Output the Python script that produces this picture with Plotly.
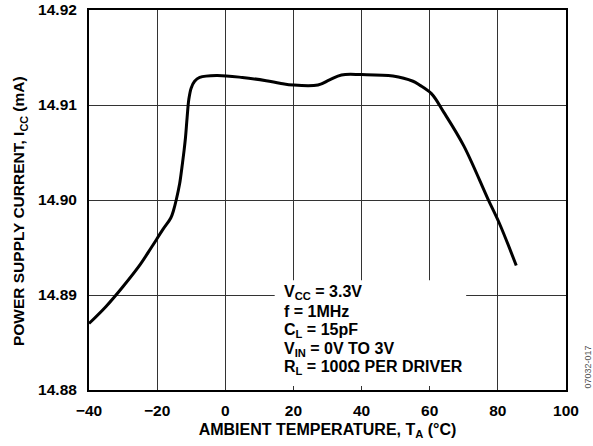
import plotly.graph_objects as go

temps = [-40, -35, -30, -25, -21.7, -18.3, -16, -15.2, -14.4, -13.4, -12.7, -12.1,
         -11.7, -11.2, -10.7, -10.0, -9.0, -7.5, -2.6, 5, 12, 16, 20, 27.2, 30.6, 34.1, 40,
         49.2, 55.1, 57, 60.5, 64.2, 70, 77.1, 80.5, 85.4]
icc = [14.8870, 14.8888, 14.8909, 14.8932, 14.8950, 14.8969, 14.8981, 14.8989, 14.9000,
       14.9017, 14.9035, 14.9052, 14.9065, 14.9087, 14.9106, 14.9118, 14.9125, 14.9129,
       14.9131, 14.9129, 14.91256, 14.9123, 14.9121, 14.91211, 14.91264, 14.91316, 14.9132,
       14.91306, 14.9125, 14.9121, 14.9112, 14.9092, 14.9057, 14.9001, 14.8975, 14.8931]

x_ticks = [-40, -20, 0, 20, 40, 60, 80, 100]
y_ticks = [14.88, 14.89, 14.90, 14.91, 14.92]
y_labels = ["14.88", "14.89", "14.90", "14.91", "14.92"]

cond_lines = ["V<sub>CC</sub> = 3.3V", "f = 1MHz", "C<sub>L</sub> = 15pF",
              "V<sub>IN</sub> = 0V TO 3V", "R<sub>L</sub> = 100Ω PER DRIVER"]
cond_y = [14.89029, 14.88830, 14.8863, 14.88431, 14.88242]

FONT = "Liberation Sans, Arial, sans-serif"

fig = go.Figure()
fig.add_trace(go.Scatter(x=temps, y=icc, mode="lines",
                         line=dict(color="black", width=3, shape="spline", smoothing=1.0),
                         showlegend=False, hoverinfo="skip"))

# white box behind the test conditions
fig.add_shape(type="rect", xref="x", yref="y", x0=14.5, x1=70.7, y0=14.88042, y1=14.89155,
              fillcolor="white", line=dict(width=0), layer="above")

for txt, yy in zip(cond_lines, cond_y):
    fig.add_annotation(x=16.6, y=yy, xref="x", yref="y", xanchor="left", yanchor="middle",
                       text=txt, showarrow=False,
                       font=dict(family=FONT, size=16, color="black", weight="bold"))

fig.add_annotation(
    x=1.0468, y=0.06, xref="paper", yref="paper", xanchor="center", yanchor="middle",
    text="07032-017", textangle=-90, showarrow=False,
    font=dict(family=FONT, size=9, color="#555555"))

fig.add_annotation(
    x=-0.1453, y=0.47, xref="paper", yref="paper", xanchor="center", yanchor="middle",
    text="POWER SUPPLY CURRENT, I<sub>CC</sub> (mA)", textangle=-90, showarrow=False,
    font=dict(family=FONT, size=15.5, color="black", weight="bold"))

axis_common = dict(showgrid=True, gridcolor="#333333", gridwidth=1,
                   showline=True, linecolor="black", linewidth=2, mirror=True,
                   zeroline=False, ticks="", automargin=False,
                   tickfont=dict(family=FONT, size=15.5, color="black", weight="bold"))

fig.update_xaxes(range=[-40, 100], tickvals=x_ticks, ticklabelstandoff=5,
                 title=dict(text="AMBIENT TEMPERATURE, T<sub>A</sub> (°C)",
                            font=dict(family=FONT, size=16, color="black", weight="bold"),
                            standoff=6),
                 **axis_common)
fig.update_yaxes(range=[14.88, 14.92], tickvals=y_ticks, ticktext=y_labels, ticklabelstandoff=7,
                 **axis_common)

fig.update_layout(width=593, height=446,
                  margin=dict(l=89, r=27, t=9.5, b=56),
                  plot_bgcolor="white", paper_bgcolor="white",
                  font=dict(family=FONT))

fig.write_html("out.html", config={"displayModeBar": False},
               post_script="document.body.style.margin='0';")
